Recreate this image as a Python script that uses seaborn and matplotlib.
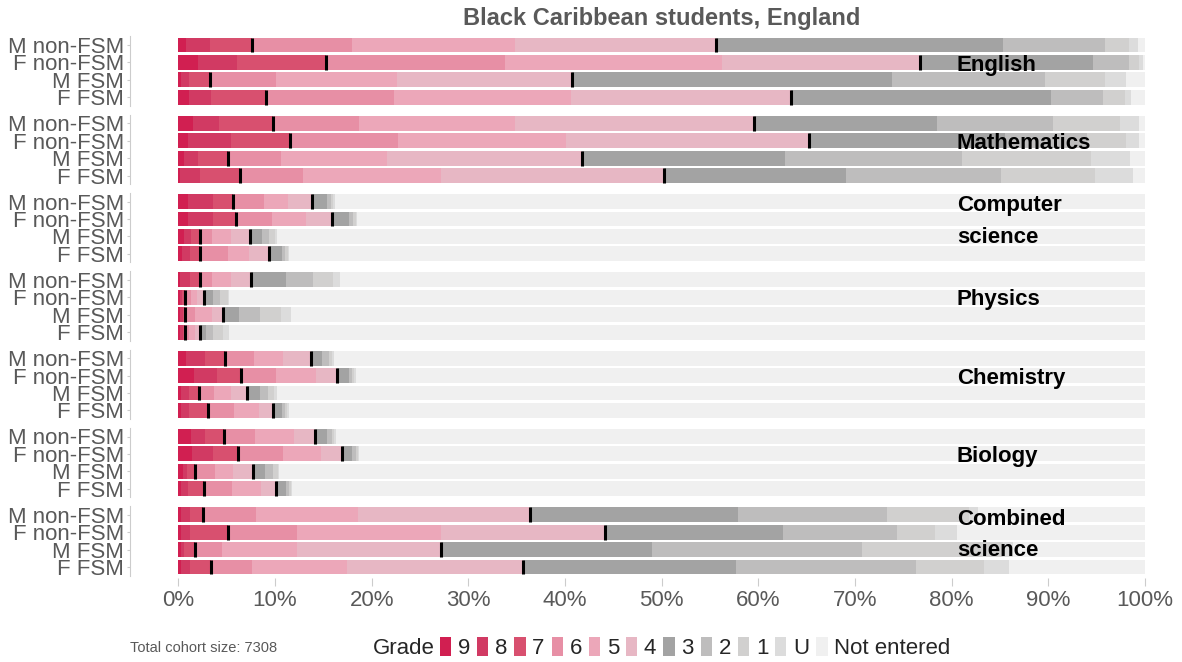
import numpy as np
import pandas as pd
import matplotlib
matplotlib.use("Agg")
import matplotlib.pyplot as plt
from matplotlib.patches import Patch
import seaborn as sns

# %%
groups = ["M non-FSM", "F non-FSM", "M FSM", "F FSM"]
grades = ["9", "8", "7", "6", "5", "4", "3", "2", "1", "U"]

# cumulative % of students at each grade or above (9, 8+, 7+, ..., U+), one row per group
english = [
    [0.8, 3.3, 7.6, 18.0, 34.8, 55.6, 85.3, 95.9, 98.3, 99.3],
    [2.0, 6.1, 15.3, 33.8, 56.2, 76.7, 94.6, 98.3, 99.4, 99.8],
    [0.3, 1.1, 3.3, 10.1, 22.6, 40.7, 73.8, 89.7, 95.9, 98.0],
    [1.1, 3.4, 9.1, 22.3, 40.6, 63.4, 90.3, 95.7, 97.9, 98.6],
]
maths = [
    [1.5, 4.2, 9.8, 18.7, 34.8, 59.6, 78.5, 90.5, 97.4, 99.4],
    [1.0, 5.4, 11.6, 22.7, 40.1, 65.2, 85.5, 94.0, 98.0, 99.4],
    [0.6, 2.0, 5.1, 10.6, 21.6, 41.8, 62.8, 81.1, 94.4, 98.4],
    [0.2, 2.2, 6.4, 12.9, 27.2, 50.2, 69.1, 85.1, 94.8, 98.8],
]
computing = [
    [1.0, 3.6, 5.7, 8.9, 11.3, 13.8, 15.4, 15.8, 16.0, 16.2],
    [1.0, 3.6, 6.0, 9.7, 13.2, 15.9, 17.7, 18.1, 18.4, 18.5],
    [0.6, 1.3, 2.2, 3.5, 5.5, 7.4, 8.7, 9.4, 10.0, 10.2],
    [0.4, 1.2, 2.2, 5.1, 7.3, 9.4, 10.7, 11.0, 11.3, 11.5],
]
physics = [
    [0.2, 1.2, 2.2, 3.5, 5.5, 7.5, 11.1, 13.9, 16.0, 16.7],
    [0.2, 0.4, 0.7, 1.3, 1.9, 2.7, 3.6, 4.3, 5.1, 5.2],
    [0.2, 0.5, 0.7, 1.7, 3.5, 4.6, 6.3, 8.4, 10.6, 11.7],
    [0.2, 0.5, 0.7, 1.1, 1.7, 2.2, 2.9, 3.6, 4.6, 5.2],
]
chemistry = [
    [0.8, 2.8, 4.8, 7.8, 10.8, 13.7, 14.9, 15.6, 15.9, 16.1],
    [1.6, 4.0, 6.5, 10.1, 14.2, 16.4, 17.7, 18.0, 18.2, 18.4],
    [0.3, 1.1, 2.1, 3.7, 5.5, 7.1, 8.4, 9.3, 9.9, 10.2],
    [0.3, 1.1, 3.1, 5.8, 8.3, 9.8, 10.7, 11.0, 11.2, 11.4],
]
biology = [
    [1.3, 2.8, 4.7, 7.9, 12.0, 14.1, 15.4, 15.9, 16.1, 16.3],
    [1.4, 3.6, 6.2, 10.8, 14.8, 16.9, 18.0, 18.4, 18.6, 18.7],
    [0.5, 0.9, 1.7, 3.8, 5.7, 7.7, 9.0, 9.8, 10.3, 10.4],
    [0.3, 1.0, 2.7, 5.6, 8.6, 10.1, 11.1, 11.5, 11.7, 11.8],
]
combined = [
    [0.3, 1.2, 2.6, 8.0, 18.6, 36.4, 57.9, 73.3, 81.8, 82.7],
    [0.3, 1.2, 5.1, 12.3, 27.2, 44.1, 62.6, 74.3, 78.3, 80.6],
    [0.3, 0.6, 1.7, 4.5, 12.3, 27.2, 49.0, 70.7, 85.3, 86.3],
    [0.3, 1.2, 3.4, 7.6, 17.4, 35.7, 57.7, 76.3, 83.3, 85.9],
]

subjects = ["English", "Mathematics", "Computer\nscience", "Physics",
            "Chemistry", "Biology", "Combined\nscience"]
subject_data = [english, maths, computing, physics, chemistry, biology, combined]
cohort_size = 7308

colours = ["#d11f51", "#d13a63", "#d8506f", "#e78fa5", "#eca7b9",
           "#e7b7c4", "#a3a3a3", "#bebdbd", "#d1d0cf", "#dcdcdc"]
ne_colour = "#f0f0f0"

# %%
sns.set_style("white")
plt.rcParams["font.family"] = ["Liberation Sans", "DejaVu Sans"]

W, H = 1182, 662
fig = plt.figure(figsize=(W / 100, H / 100), dpi=100)

x0, pxp = 178.3, 9.667  # pixel of 0%, pixels per percent
left = x0 - 5 * pxp
right = x0 + 100.5 * pxp

for g, (name, rows) in enumerate(zip(subjects, subject_data)):
    top = 36.3 + g * 78.3
    ax = fig.add_axes([left / W, 1 - (top + 69.6) / H, (right - left) / W, 69.6 / H])

    df = pd.DataFrame(rows, columns=grades)
    df["group"] = groups
    df["Not entered"] = 100

    # overlapping cumulative bars, widest first
    for col, c in zip(["Not entered"] + grades[::-1], [ne_colour] + colours[::-1]):
        sns.barplot(data=df, x=col, y="group", order=groups, color=c,
                    saturation=1, width=0.86, linewidth=0, errorbar=None, ax=ax)

    # black markers at 7+ and 4+
    for i in range(4):
        for k in (2, 5):
            ax.vlines(df[grades[k]][i], i - 0.43, i + 0.43, color="black", lw=2.2)

    ax.set_xlim(-5, 100.5)
    ax.set_ylim(3.5, -0.5)
    ax.set_xlabel("")
    ax.set_ylabel("")
    for s in ["top", "right", "bottom"]:
        ax.spines[s].set_visible(False)
    ax.spines["left"].set_color("#cccccc")
    ax.tick_params(axis="y", left=True, length=2.2, color="#cccccc", pad=2,
                   labelsize=16, labelcolor="#595959")
    ax.set_xticks(np.arange(0, 101, 10))
    if g < len(subjects) - 1:
        ax.tick_params(axis="x", bottom=False, labelbottom=False)
    else:
        ax.spines["bottom"].set_position(("outward", 2))
        ax.set_xticklabels([f"{v}%" for v in range(0, 101, 10)])
        ax.tick_params(axis="x", bottom=True, length=6, color="#cccccc", pad=2,
                       labelsize=16, labelcolor="#595959")

    ax.text(80.55, 1.15, name, ha="left", va="center", fontsize=16,
            fontweight="bold", color="black", linespacing=1.65)

fig.text(661.5 / W, 1 - 18 / H, "Black Caribbean students, England", ha="center",
         va="center", fontsize=17, fontweight="bold", color="#595959")

# legend row
fig.text(130 / W, 1 - 648 / H, f"Total cohort size: {cohort_size}", ha="left",
         va="center", fontsize=10.5, color="#595959")
fig.text(373 / W, 1 - 648 / H, "Grade", ha="left", va="center", fontsize=16)
handles = [Patch(facecolor=c, edgecolor="none") for c in colours + [ne_colour]]
fig.legend(handles, grades + ["Not entered"], loc="center left",
           bbox_to_anchor=(440 / W, 1 - 648 / H), ncol=11, frameon=False,
           fontsize=16, handlelength=0.5, handleheight=0.9, handletextpad=0.3,
           columnspacing=0.32, borderpad=0, borderaxespad=0)

fig.savefig("out.png", dpi=100)
